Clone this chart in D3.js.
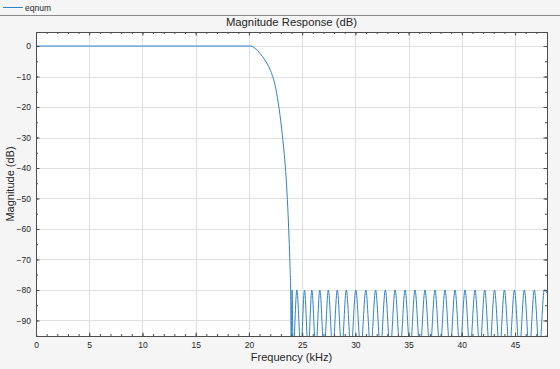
<!DOCTYPE html>
<html>
<head>
<meta charset="utf-8">
<script src="https://cdn.jsdelivr.net/npm/d3@7"></script>
<style>
  body { margin: 0; background: #f5f5f5; }
  svg text { font-family: "Liberation Sans", Arial, sans-serif; fill: #262626; }
</style>
</head>
<body>
<svg width="560" height="369"></svg>
<script>
const svg = d3.select('svg');
const svgWidth = +svg.attr('width');
const svgHeight = +svg.attr('height');

// tick labels
const xTicks = [0, 5, 10, 15, 20, 25, 30, 35, 40, 45];
const yTicks = [0, -10, -20, -30, -40, -50, -60, -70, -80, -90];
const xMinorTicks = d3.range(0, 49, 1);
const yMinorTicks = [0, -5, -10, -15, -20, -25, -30, -35, -40, -45, -50, -55, -60, -65, -70, -75, -80, -85, -90, -95];

// passband + transition band (kHz, dB)
const bandFreq = [0, 20.2, 20.56, 21.03, 21.5, 21.97, 22.44, 22.75, 23.07, 23.32, 23.50, 23.65, 23.77, 23.86, 23.92];
const bandDb   = [0, 0, -0.7, -2.4, -4.6, -7.6, -12.6, -18.5, -27, -35.5, -43.5, -53, -63, -72, -80];

// stopband lobes: peaks sit on -80 dB, nulls fall below the axis
const stopPeakFreq = [24.05, 24.50, 25.22, 25.91, 26.66, 27.46, 28.30, 29.15, 30.04, 30.98,
  31.90, 32.81, 33.73, 34.67, 35.60, 36.54, 37.48, 38.42, 39.36, 40.30,
  41.24, 42.15, 43.07, 44.00, 44.94, 45.87, 46.81, 47.75];
const stopNullFreq = [23.97, 24.16, 24.88, 25.57, 26.28, 27.06, 27.88, 28.72, 29.59, 30.51,
  31.44, 32.36, 33.27, 34.20, 35.14, 36.07, 37.01, 37.95, 38.89, 39.83,
  40.77, 41.70, 42.61, 43.54, 44.47, 45.41, 46.34, 47.28];
const stopPeakDb = -80;
const stopNullDb = -100;
const endPoint = { f: 48, db: -81 };

const series = bandFreq.map((f, i) => ({ f, db: bandDb[i] }))
  .concat(stopPeakFreq.map(f => ({ f, db: stopPeakDb })))
  .concat(stopNullFreq.map(f => ({ f, db: stopNullDb })))
  .concat([endPoint])
  .sort((a, b) => a.f - b.f);

const lineColor = '#2f83c9';
const frameColor = '#4d4d4d';

const plot = { left: 36, right: 547, top: 32, bottom: 336 };

const x = d3.scaleLinear().domain([0, 48]).range([plot.left, plot.right]);
const y = d3.scaleLinear().domain([-95.1, 4.6]).range([plot.bottom, plot.top]);

svg.append('rect')
  .attr('width', svgWidth).attr('height', svgHeight)
  .attr('fill', '#f5f5f5');

// legend strip at the top
svg.append('line')
  .attr('x1', 3).attr('x2', 23).attr('y1', 7.5).attr('y2', 7.5)
  .attr('stroke', lineColor).attr('stroke-width', 1);
svg.append('text')
  .attr('x', 25).attr('y', 10.5)
  .attr('font-size', 8.5)
  .text('eqnum');
svg.append('line')
  .attr('x1', 0).attr('x2', svgWidth).attr('y1', 15.5).attr('y2', 15.5)
  .attr('stroke', '#8a8a8a');

svg.append('rect')
  .attr('x', plot.left).attr('y', plot.top)
  .attr('width', plot.right - plot.left).attr('height', plot.bottom - plot.top)
  .attr('fill', 'white');

// grid
const grid = svg.append('g').attr('class', 'grid');
grid.selectAll('line.gx').data(xTicks)
  .enter().append('line')
    .attr('class', 'gx')
    .attr('x1', d => Math.round(x(d)) + 0.5).attr('x2', d => Math.round(x(d)) + 0.5)
    .attr('y1', plot.top).attr('y2', plot.bottom)
    .attr('stroke', '#e0e0e0');
grid.selectAll('line.gy').data(yTicks)
  .enter().append('line')
    .attr('class', 'gy')
    .attr('y1', d => Math.round(y(d)) + 0.5).attr('y2', d => Math.round(y(d)) + 0.5)
    .attr('x1', plot.left).attr('x2', plot.right)
    .attr('stroke', '#e0e0e0');

svg.append('clipPath').attr('id', 'plot-clip')
  .append('rect')
    .attr('x', plot.left).attr('y', plot.top)
    .attr('width', plot.right - plot.left).attr('height', plot.bottom - plot.top);

const line = d3.line()
  .x(d => x(d.f))
  .y(d => y(d.db))
  .curve(d3.curveMonotoneX);

svg.append('path')
  .datum(series)
  .attr('clip-path', 'url(#plot-clip)')
  .attr('fill', 'none')
  .attr('stroke', lineColor)
  .attr('stroke-width', 1)
  .attr('d', line);

// axes, ticks pointing inward
const styleAxis = g => {
  g.attr('font-family', null).attr('font-size', 8.5);
  g.selectAll('path, line').attr('stroke', frameColor);
};

svg.append('g')
  .attr('transform', `translate(0, ${plot.bottom})`)
  .call(d3.axisBottom(x).tickValues(xMinorTicks).tickSizeInner(-2).tickSizeOuter(0).tickFormat(''))
  .call(styleAxis);
svg.append('g')
  .attr('transform', `translate(0, ${plot.bottom})`)
  .call(d3.axisBottom(x).tickValues(xTicks).tickSizeInner(-3.5).tickSizeOuter(0).tickPadding(6))
  .call(styleAxis);
svg.append('g')
  .attr('transform', `translate(0, ${plot.top})`)
  .call(d3.axisTop(x).tickValues(xMinorTicks).tickSizeInner(-2).tickSizeOuter(0).tickFormat(''))
  .call(styleAxis);
svg.append('g')
  .attr('transform', `translate(0, ${plot.top})`)
  .call(d3.axisTop(x).tickValues(xTicks).tickSizeInner(-3.5).tickSizeOuter(0).tickFormat(''))
  .call(styleAxis);

svg.append('g')
  .attr('transform', `translate(${plot.left}, 0)`)
  .call(d3.axisLeft(y).tickValues(yMinorTicks).tickSizeInner(-2).tickSizeOuter(0).tickFormat(''))
  .call(styleAxis);
svg.append('g')
  .attr('transform', `translate(${plot.left}, 0)`)
  .call(d3.axisLeft(y).tickValues(yTicks).tickSizeInner(-3.5).tickSizeOuter(0).tickPadding(5))
  .call(styleAxis);
svg.append('g')
  .attr('transform', `translate(${plot.right}, 0)`)
  .call(d3.axisRight(y).tickValues(yMinorTicks).tickSizeInner(-2).tickSizeOuter(0).tickFormat(''))
  .call(styleAxis);
svg.append('g')
  .attr('transform', `translate(${plot.right}, 0)`)
  .call(d3.axisRight(y).tickValues(yTicks).tickSizeInner(-3.5).tickSizeOuter(0).tickFormat(''))
  .call(styleAxis);

// titles
const midX = (plot.left + plot.right) / 2;
svg.append('text')
  .attr('x', midX).attr('y', 26)
  .attr('text-anchor', 'middle')
  .attr('font-size', 11.3)
  .text('Magnitude Response (dB)');
svg.append('text')
  .attr('x', midX).attr('y', 361)
  .attr('text-anchor', 'middle')
  .attr('font-size', 11)
  .text('Frequency (kHz)');
svg.append('text')
  .attr('transform', `translate(14, ${(plot.top + plot.bottom) / 2}) rotate(-90)`)
  .attr('text-anchor', 'middle')
  .attr('font-size', 11)
  .text('Magnitude (dB)');
</script>
</body>
</html>
